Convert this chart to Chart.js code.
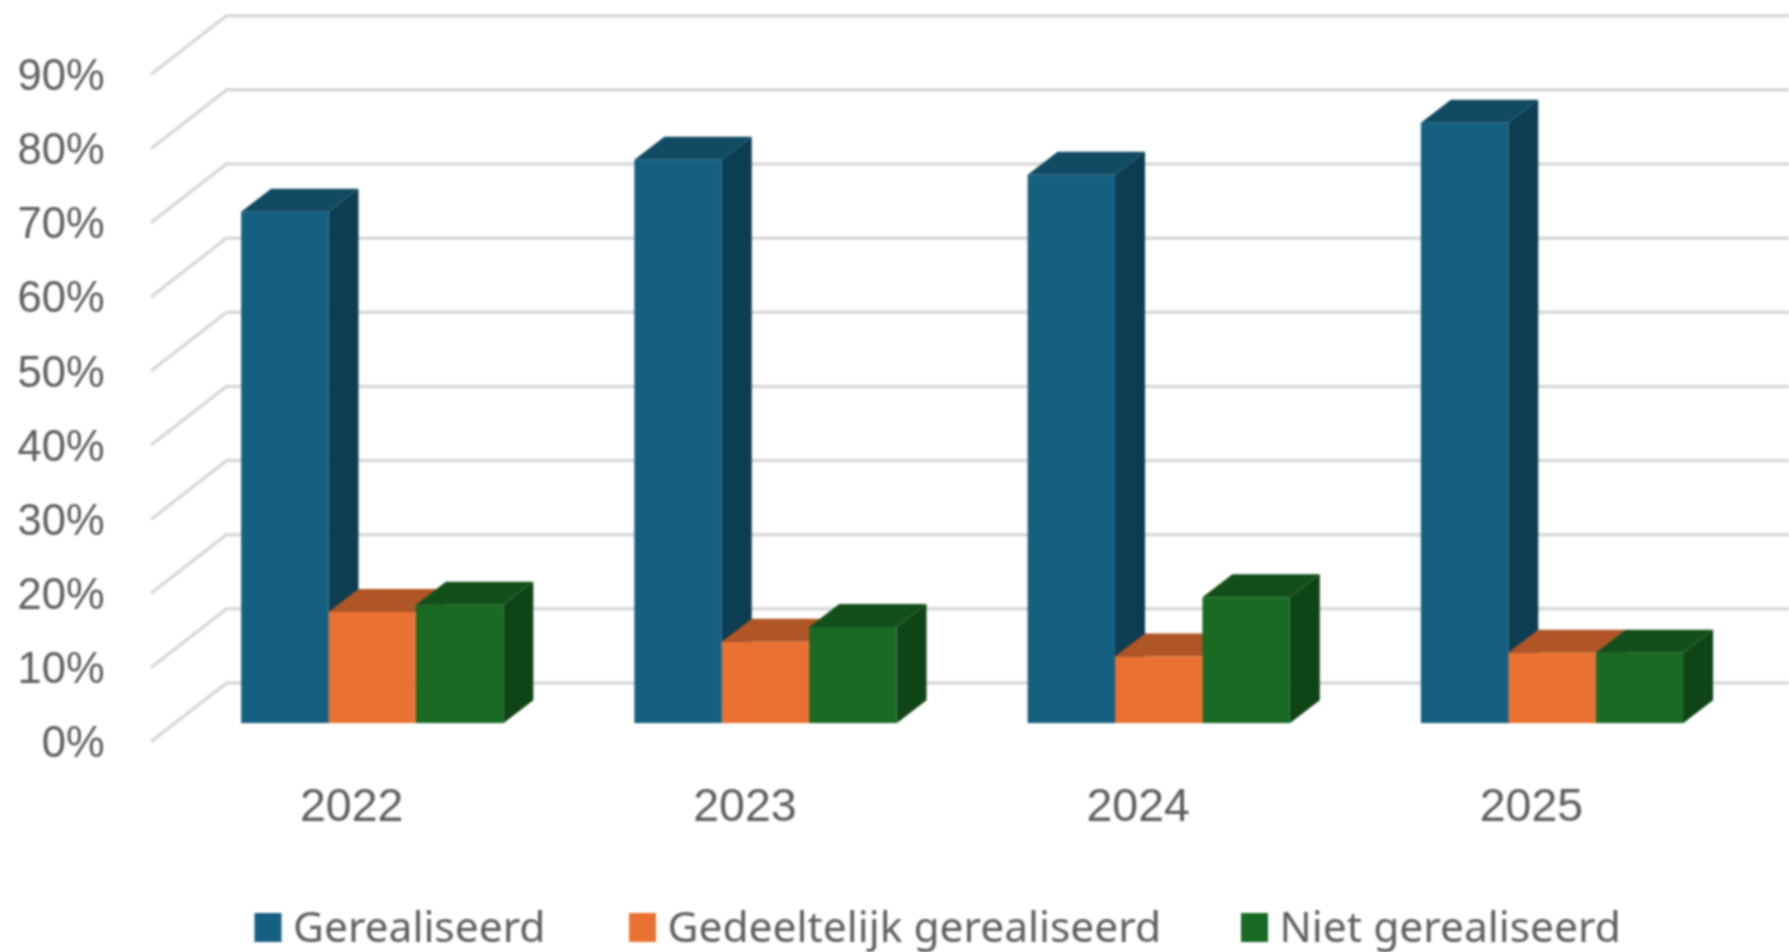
<!DOCTYPE html>
<html>
<head>
<meta charset="utf-8">
<title>Realisatie per jaar</title>
<script src="https://cdn.jsdelivr.net/npm/chart.js@4/dist/chart.umd.min.js"></script>
<style>
    html, body { margin: 0; padding: 0; background: #fff; overflow: hidden; }
    canvas { display: block; filter: blur(0.8px); }
</style>
</head>
<body>
<canvas id="bar-chart" width="1789" height="952"></canvas>
<script>
const years = ['2022', '2023', '2024', '2025'];
const seriesNames = ['Gerealiseerd', 'Gedeeltelijk gerealiseerd', 'Niet gerealiseerd'];
const gerealiseerd = [69, 76, 74, 81];
const gedeeltelijk = [15, 11, 9, 9.5];
const nietGerealiseerd = [16, 13, 17, 9.5];

const frontColors = ['#156082', '#E97132', '#196B24'];
const sideColors = ['#0D3D52', '#93471F', '#0F4416'];
const topColors = ['#104A63', '#B05525', '#134F1B'];
const textColor = '#5E5E5E';

// Depth of one bar and of the floor, as the 3D look needs them
const BAR_DX = 30;
const BAR_DY = 23;
const WALL_FRONT = { dx: -24.6, dy: 18.4 };
const WALL_BACK = { dx: 50.9, dy: -40.3 };

// Grid lines run from the front of the floor to the back wall, then to the right
const wallGrid = {
    id: 'wallGrid',
    beforeDatasetsDraw(chart) {
        const { ctx, scales: { y }, chartArea } = chart;
        ctx.save();
        ctx.strokeStyle = '#D9D9D9';
        ctx.lineWidth = 3.5;
        ctx.lineJoin = 'round';
        y.ticks.forEach(tick => {
            const py = y.getPixelForValue(tick.value);
            ctx.beginPath();
            ctx.moveTo(chartArea.left + WALL_FRONT.dx, py + WALL_FRONT.dy);
            ctx.lineTo(chartArea.left + WALL_BACK.dx, py + WALL_BACK.dy);
            ctx.lineTo(chart.width, py + WALL_BACK.dy);
            ctx.stroke();
        });
        ctx.restore();
    }
};

// Side and top faces of the bars, first series first so later ones paint over it.
// The library then draws the front faces on top of all of these.
const barFaces = {
    id: 'barFaces',
    beforeDatasetsDraw(chart) {
        const { ctx } = chart;
        ctx.save();
        chart.data.datasets.forEach((ds, i) => {
            chart.getDatasetMeta(i).data.forEach(bar => {
                const left = bar.x - bar.width / 2;
                const right = bar.x + bar.width / 2;

                ctx.fillStyle = sideColors[i];
                ctx.beginPath();
                ctx.moveTo(right, bar.y);
                ctx.lineTo(right + BAR_DX, bar.y - BAR_DY);
                ctx.lineTo(right + BAR_DX, bar.base - BAR_DY);
                ctx.lineTo(right, bar.base);
                ctx.closePath();
                ctx.fill();

                ctx.fillStyle = topColors[i];
                ctx.beginPath();
                ctx.moveTo(left, bar.y);
                ctx.lineTo(left + BAR_DX, bar.y - BAR_DY);
                ctx.lineTo(right + BAR_DX, bar.y - BAR_DY);
                ctx.lineTo(right, bar.y);
                ctx.closePath();
                ctx.fill();
            });
        });
        ctx.restore();
    }
};

// The built-in legend has a fixed box-to-text gap, so this one is drawn here
const LEGEND_BOX_X = [254.5, 629, 1241];
const bottomLegend = {
    id: 'bottomLegend',
    afterDraw(chart) {
        const { ctx } = chart;
        ctx.save();
        ctx.font = "42.5px 'Noto Sans', sans-serif";
        ctx.textBaseline = 'alphabetic';
        chart.data.datasets.forEach((ds, i) => {
            ctx.fillStyle = ds.backgroundColor;
            ctx.fillRect(LEGEND_BOX_X[i], 913, 27, 29);
            ctx.fillStyle = textColor;
            ctx.fillText(ds.label, LEGEND_BOX_X[i] + 38.5, 942);
        });
        ctx.restore();
    }
};

const datasets = [gerealiseerd, gedeeltelijk, nietGerealiseerd].map((values, i) => ({
    label: seriesNames[i],
    data: values,
    backgroundColor: frontColors[i],
    barPercentage: 1,
    categoryPercentage: 2 / 3
}));

const ctx = document.getElementById('bar-chart').getContext('2d');
new Chart(ctx, {
    type: 'bar',
    data: { labels: years, datasets },
    plugins: [wallGrid, barFaces, bottomLegend],
    options: {
        responsive: false,
        animation: false,
        layout: { padding: { top: 56, right: 40.4, bottom: 0, left: 0 } },
        plugins: {
            legend: { display: false },
            tooltip: { enabled: false }
        },
        scales: {
            y: {
                min: 0,
                max: 90,
                // tickLength is only used as the label distance, marks stay hidden
                grid: { display: false, tickLength: 71 },
                border: { display: false },
                afterFit: scale => { scale.width = 175.6; },
                ticks: {
                    stepSize: 10,
                    padding: 0,
                    labelOffset: 22,
                    color: textColor,
                    font: { family: "'Liberation Sans', Arial, sans-serif", size: 43.5 },
                    callback: value => value + '%'
                }
            },
            x: {
                grid: { display: false, tickLength: 57 },
                border: { display: false },
                afterFit: scale => { scale.height = 228.7; },
                ticks: {
                    padding: 0,
                    labelOffset: -20.5,
                    maxRotation: 0,
                    color: textColor,
                    font: { family: "'Liberation Sans', Arial, sans-serif", size: 46.5 }
                }
            }
        }
    }
});
</script>
</body>
</html>
